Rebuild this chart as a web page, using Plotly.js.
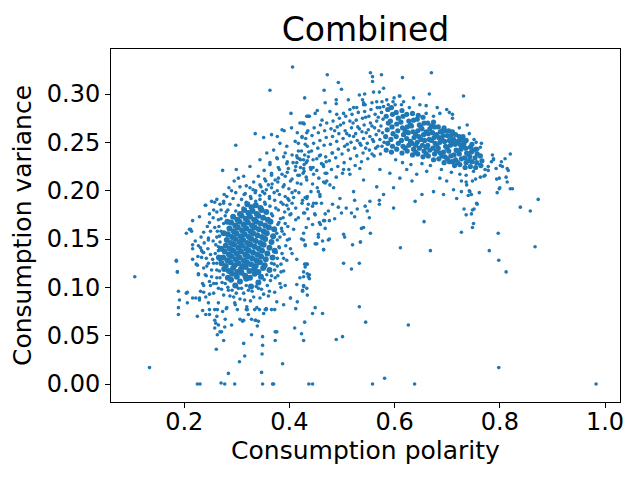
<!DOCTYPE html>
<html>
<head>
<meta charset="utf-8">
<script src="https://cdn.plot.ly/plotly-3.0.1.min.js"></script>
<style>
  html, body { margin: 0; padding: 0; background: #fff; }
  #chart { width: 640px; height: 480px; }
</style>
</head>
<body>
<div id="chart"></div>
<script>
// Combined: consumption polarity vs consumption variance, one point per household.
// The two solid blobs (left core, right arc) get slightly fatter markers so they close up like the original.

const leftCore = [
  [0.289,0.108],[0.297,0.102],[0.306,0.106],[0.318,0.109],[0.327,0.101],[0.341,0.105],
  [0.283,0.110],[0.291,0.114],[0.300,0.111],[0.309,0.115],[0.316,0.112],[0.325,0.110],[0.334,0.114],[0.346,0.111],
  [0.276,0.119],[0.285,0.117],[0.293,0.120],[0.301,0.116],[0.308,0.119],[0.317,0.121],[0.324,0.117],[0.333,0.119],[0.341,0.116],[0.350,0.120],[0.362,0.118],
  [0.271,0.125],[0.279,0.122],[0.288,0.126],[0.296,0.123],[0.303,0.125],[0.311,0.122],[0.319,0.126],[0.327,0.124],[0.336,0.122],[0.344,0.126],[0.353,0.123],
  [0.274,0.131],[0.282,0.128],[0.290,0.132],[0.298,0.129],[0.305,0.131],[0.313,0.128],[0.321,0.132],[0.329,0.130],[0.337,0.128],[0.346,0.132],[0.355,0.129],[0.368,0.131],
  [0.277,0.137],[0.285,0.134],[0.293,0.138],[0.300,0.135],[0.308,0.137],[0.316,0.134],[0.323,0.138],[0.331,0.136],[0.339,0.134],[0.348,0.138],[0.358,0.135],
  [0.279,0.143],[0.287,0.140],[0.295,0.144],[0.303,0.141],[0.310,0.143],[0.318,0.140],[0.326,0.144],[0.334,0.142],[0.342,0.140],[0.351,0.144],[0.362,0.141],
  [0.281,0.149],[0.289,0.146],[0.297,0.150],[0.305,0.147],[0.312,0.149],[0.320,0.146],[0.328,0.150],[0.336,0.148],[0.345,0.146],[0.354,0.150],[0.366,0.147],
  [0.283,0.155],[0.291,0.152],[0.299,0.156],[0.307,0.153],[0.315,0.155],[0.323,0.152],[0.331,0.156],[0.339,0.154],[0.348,0.152],[0.357,0.156],[0.369,0.153],
  [0.286,0.161],[0.294,0.158],[0.302,0.162],[0.310,0.159],[0.318,0.161],[0.326,0.158],[0.334,0.162],[0.342,0.160],[0.351,0.158],[0.361,0.162],
  [0.289,0.167],[0.297,0.164],[0.305,0.168],[0.313,0.165],[0.321,0.167],[0.329,0.164],[0.337,0.168],[0.345,0.166],[0.354,0.164],[0.364,0.168],
  [0.293,0.173],[0.301,0.170],[0.309,0.174],[0.317,0.171],[0.325,0.173],[0.333,0.170],[0.341,0.174],[0.350,0.172],[0.359,0.170],
  [0.306,0.176],[0.314,0.180],[0.322,0.177],[0.330,0.179],[0.338,0.176],[0.347,0.180],[0.356,0.178],
  [0.320,0.186],[0.328,0.183],[0.336,0.185],[0.345,0.182],
  [0.270,0.140],[0.275,0.156],[0.282,0.168],[0.266,0.131],[0.372,0.138],[0.371,0.160]
];

const leftUpper = [
  [0.303,0.185],[0.312,0.182],[0.354,0.186],[0.363,0.184],[0.374,0.182],[0.388,0.186],[0.298,0.179],[0.366,0.176],[0.379,0.180],
  [0.368,0.174],[0.383,0.171],[0.378,0.165],[0.373,0.159],[0.377,0.149],[0.371,0.137],[0.366,0.125],[0.357,0.113],[0.352,0.108],
  [0.278,0.104],[0.274,0.113],
  [0.309,0.191],[0.318,0.188],[0.327,0.192],[0.336,0.189],[0.344,0.191],[0.353,0.188],[0.362,0.192],[0.372,0.190],[0.384,0.188],[0.397,0.192],
  [0.316,0.197],[0.326,0.194],[0.335,0.198],[0.344,0.195],[0.353,0.197],[0.362,0.194],[0.371,0.198],[0.381,0.196],[0.392,0.194],[0.405,0.198],
  [0.325,0.203],[0.336,0.200],[0.346,0.204],[0.356,0.201],[0.366,0.203],[0.377,0.200],[0.388,0.204],[0.399,0.202],[0.411,0.200],
  [0.332,0.209],[0.344,0.206],[0.355,0.210],[0.367,0.207],[0.378,0.209],[0.390,0.206],[0.402,0.210],[0.415,0.208],
  [0.341,0.215],[0.353,0.212],[0.366,0.216],[0.379,0.213],[0.392,0.215],[0.405,0.212],[0.419,0.216],[0.432,0.214],
  [0.352,0.221],[0.366,0.218],[0.381,0.222],[0.396,0.219],[0.411,0.221],[0.426,0.218],[0.441,0.222],
  [0.363,0.227],[0.379,0.224],[0.395,0.228],[0.412,0.225],[0.428,0.227],[0.445,0.224],[0.461,0.228],
  [0.377,0.233],[0.396,0.230],[0.415,0.234],[0.434,0.231],[0.452,0.233],[0.470,0.230],
  [0.392,0.239],[0.414,0.236],[0.437,0.240],[0.459,0.237],[0.482,0.239],
  [0.314,0.196],[0.331,0.201],[0.349,0.199],[0.360,0.206],[0.373,0.211],[0.386,0.217],[0.398,0.223],[0.407,0.229],[0.421,0.232]
];

const leftHalo = [
  [0.273,0.221],[0.299,0.222],[0.303,0.213],[0.290,0.200],[0.240,0.185],[0.258,0.188],[0.256,0.180],[0.275,0.189],[0.275,0.187],
  [0.216,0.169],[0.229,0.173],[0.210,0.160],[0.204,0.156],[0.237,0.157],[0.248,0.167],[0.185,0.128],[0.187,0.116],
  [0.216,0.144],[0.216,0.140],[0.227,0.143],[0.231,0.141],[0.236,0.136],[0.246,0.151],[0.246,0.149],[0.250,0.134],[0.254,0.129],
  [0.260,0.144],[0.262,0.125],[0.265,0.138],[0.267,0.153],[0.263,0.158],[0.268,0.147],[0.266,0.163],[0.270,0.171],[0.280,0.178],
  [0.237,0.120],[0.227,0.114],[0.223,0.124],[0.240,0.113],[0.248,0.106],[0.256,0.104],[0.237,0.102],[0.262,0.110],[0.267,0.117],
  [0.262,0.118],[0.268,0.128],[0.259,0.135],[0.265,0.142],[0.255,0.148],[0.262,0.152],[0.270,0.158],[0.258,0.162],[0.275,0.166],
  [0.265,0.170],[0.278,0.174],[0.283,0.180],[0.270,0.180],[0.287,0.186],[0.293,0.192],[0.281,0.194],[0.298,0.198],[0.306,0.204],
  [0.245,0.140],[0.250,0.158],[0.242,0.130],[0.252,0.118],[0.246,0.125],[0.238,0.146],[0.232,0.152],[0.244,0.163],[0.255,0.172],
  [0.262,0.178],[0.248,0.176],[0.268,0.186],[0.276,0.196],[0.285,0.203],[0.295,0.210],[0.318,0.205],[0.226,0.132],[0.221,0.148],
  [0.252,0.111],[0.261,0.104],[0.268,0.110],[0.271,0.098],
  [0.283,0.100],[0.291,0.097],[0.299,0.094],[0.309,0.099],[0.318,0.102],[0.329,0.096],[0.337,0.101],[0.347,0.098],[0.358,0.102],
  [0.364,0.107],[0.272,0.105],[0.287,0.091],[0.306,0.088],[0.326,0.086],[0.344,0.089],[0.360,0.091],[0.296,0.084],[0.315,0.087],
  [0.366,0.112],[0.372,0.118],[0.371,0.124],[0.377,0.130],[0.375,0.136],[0.380,0.142],[0.382,0.152],[0.376,0.156],[0.385,0.161],
  [0.380,0.167],[0.388,0.172],[0.391,0.178],[0.395,0.185],[0.399,0.190],[0.405,0.187],[0.408,0.193],[0.412,0.182],[0.403,0.176],
  [0.397,0.163],[0.390,0.155],[0.393,0.143],[0.386,0.135],[0.384,0.124],[0.378,0.112],[0.400,0.150],[0.408,0.160],[0.412,0.170],
  [0.402,0.140],[0.389,0.117],[0.395,0.128],
  [0.427,0.177],[0.434,0.181],[0.446,0.187],[0.465,0.169],[0.468,0.176],[0.449,0.175],[0.458,0.194],[0.468,0.208],[0.471,0.218],
  [0.455,0.199],[0.434,0.194],[0.424,0.187],[0.417,0.172],[0.427,0.149],[0.430,0.144],[0.414,0.129],[0.405,0.135],[0.452,0.145],
  [0.465,0.139],[0.420,0.110],[0.427,0.101],[0.436,0.111],[0.382,0.104],[0.373,0.110],
  [0.386,0.158],[0.392,0.166],[0.381,0.141],[0.389,0.130],[0.377,0.122],[0.396,0.149],[0.401,0.175],[0.384,0.116],[0.398,0.181],
  [0.227,0.113],[0.235,0.104],[0.242,0.112],[0.250,0.102],[0.237,0.095],
  [0.256,0.094],[0.265,0.099],[0.275,0.092],[0.284,0.097],[0.294,0.090],[0.303,0.099],[0.313,0.094],[0.322,0.097],[0.332,0.090],
  [0.341,0.099],[0.351,0.093],[0.362,0.096],[0.372,0.095],[0.384,0.100],[0.392,0.102],[0.402,0.089],[0.414,0.103],[0.425,0.096],[0.433,0.099],
  [0.265,0.084],[0.281,0.079],[0.297,0.082],[0.319,0.080],[0.338,0.079],[0.356,0.078],[0.376,0.085],[0.389,0.082],
  [0.262,0.070],[0.278,0.067],[0.322,0.072],[0.335,0.066],[0.351,0.073],
  [0.216,0.129],[0.237,0.136],[0.243,0.122],[0.256,0.125],[0.225,0.123],
  [0.357,0.239],[0.370,0.242],[0.382,0.249],[0.395,0.246],[0.411,0.251],[0.424,0.255],[0.433,0.260],[0.389,0.235],[0.405,0.237],
  [0.417,0.241],[0.430,0.248],[0.344,0.232],[0.325,0.225],[0.313,0.215],[0.363,0.229],[0.376,0.234],[0.414,0.229],[0.427,0.232],[0.436,0.235],
  [0.351,0.255],[0.366,0.258],[0.377,0.256],[0.386,0.263],[0.390,0.262],[0.404,0.265],[0.415,0.260],[0.424,0.270],[0.428,0.269],[0.438,0.277],
  [0.262,0.191],[0.252,0.189],[0.241,0.185],[0.212,0.160],[0.214,0.158],[0.233,0.138],[0.233,0.131],[0.298,0.247],[0.335,0.259]
];

const midBand = [
  [0.418,0.198],[0.422,0.207],[0.416,0.216],[0.421,0.224],[0.419,0.233],[0.423,0.241],[0.417,0.249],[0.424,0.256],
  [0.430,0.193],[0.433,0.211],[0.428,0.220],[0.432,0.229],[0.429,0.237],[0.434,0.246],[0.431,0.254],[0.435,0.262],
  [0.441,0.199],[0.444,0.207],[0.440,0.224],[0.445,0.232],[0.442,0.241],[0.446,0.249],[0.443,0.257],[0.447,0.265],
  [0.453,0.203],[0.456,0.213],[0.452,0.221],[0.457,0.236],[0.454,0.244],[0.458,0.252],[0.455,0.260],[0.459,0.268],
  [0.465,0.209],[0.468,0.218],[0.464,0.227],[0.469,0.235],[0.466,0.247],[0.470,0.255],[0.467,0.262],[0.471,0.270],
  [0.477,0.206],[0.480,0.222],[0.476,0.231],[0.481,0.239],[0.478,0.248],[0.482,0.256],[0.479,0.264],[0.483,0.272],
  [0.489,0.214],[0.492,0.225],[0.488,0.234],[0.493,0.243],[0.490,0.251],[0.494,0.259],[0.491,0.266],[0.495,0.275],
  [0.501,0.218],[0.504,0.229],[0.500,0.238],[0.505,0.246],[0.502,0.254],[0.506,0.262],[0.503,0.270],[0.507,0.277],
  [0.513,0.222],[0.516,0.233],[0.512,0.242],[0.517,0.250],[0.514,0.257],[0.518,0.265],[0.515,0.272],[0.519,0.279],
  [0.525,0.226],[0.528,0.236],[0.524,0.244],[0.529,0.252],[0.526,0.259],[0.530,0.266],[0.527,0.273],[0.531,0.281],
  [0.537,0.230],[0.540,0.239],[0.536,0.247],[0.541,0.254],[0.538,0.261],[0.542,0.268],[0.539,0.275],[0.543,0.282],
  [0.549,0.233],[0.552,0.242],[0.548,0.249],[0.553,0.256],[0.550,0.263],[0.554,0.270],[0.551,0.277],[0.555,0.284],
  [0.561,0.236],[0.564,0.244],[0.560,0.251],[0.565,0.258],[0.562,0.265],[0.566,0.272],[0.563,0.279],[0.567,0.286],
  [0.573,0.238],[0.576,0.246],[0.572,0.253],[0.577,0.260],[0.574,0.267],[0.578,0.274],[0.575,0.281],[0.579,0.287],
  [0.486,0.262],[0.497,0.268],[0.509,0.259],[0.521,0.270],[0.533,0.264],[0.545,0.276],[0.557,0.267],[0.569,0.276],[0.510,0.248],
  [0.522,0.256],[0.534,0.249],[0.546,0.260],[0.558,0.253],[0.570,0.262],[0.545,0.244],[0.557,0.238],[0.568,0.246],[0.580,0.250],
  [0.433,0.277],[0.449,0.280],[0.462,0.273],[0.477,0.282],[0.490,0.279],[0.503,0.280],[0.515,0.284],[0.528,0.286],
  [0.544,0.289],[0.557,0.291],[0.576,0.292],[0.588,0.289],[0.601,0.289],[0.572,0.286],
  [0.427,0.223],[0.446,0.217],[0.458,0.196],[0.471,0.210],[0.484,0.203],[0.496,0.192],[0.515,0.217],[0.522,0.199],[0.541,0.211],
  [0.553,0.189],[0.566,0.204],[0.579,0.196],[0.591,0.218],[0.598,0.203],[0.610,0.213],[0.572,0.222],[0.534,0.223],[0.503,0.222],
  [0.465,0.225],[0.433,0.192],
  [0.425,0.190],[0.436,0.186],[0.444,0.184],[0.451,0.187],[0.461,0.187],[0.474,0.179],[0.482,0.186],[0.493,0.183],[0.499,0.177],
  [0.508,0.182],[0.518,0.177],[0.524,0.173],[0.529,0.181],[0.544,0.184],[0.548,0.179],[0.552,0.172],[0.571,0.186],[0.524,0.190],
  [0.571,0.190],[0.429,0.177],[0.436,0.171],[0.448,0.176],[0.432,0.162],[0.444,0.165],[0.457,0.167],[0.467,0.169],[0.476,0.169],
  [0.486,0.171],[0.459,0.165],[0.468,0.161],[0.427,0.156],[0.423,0.150],[0.430,0.143],[0.455,0.155],[0.455,0.152],[0.463,0.148],
  [0.476,0.150],[0.503,0.155],[0.505,0.152],[0.535,0.147],[0.554,0.156],[0.537,0.161],[0.541,0.162],[0.449,0.145],[0.465,0.139],
  [0.429,0.124],[0.434,0.124],[0.430,0.121]
];

const arcCore = [
  [0.584,0.242],[0.587,0.249],[0.583,0.256],[0.586,0.263],[0.588,0.270],[0.584,0.277],[0.587,0.284],
  [0.594,0.240],[0.596,0.246],[0.593,0.253],[0.597,0.259],[0.595,0.266],[0.592,0.272],[0.596,0.279],[0.594,0.286],
  [0.604,0.243],[0.607,0.249],[0.603,0.256],[0.606,0.262],[0.604,0.269],[0.607,0.275],[0.603,0.281],
  [0.614,0.239],[0.616,0.246],[0.613,0.252],[0.617,0.258],[0.615,0.265],[0.612,0.271],[0.616,0.277],[0.614,0.283],
  [0.624,0.241],[0.627,0.247],[0.623,0.254],[0.626,0.260],[0.624,0.266],[0.627,0.272],[0.623,0.279],
  [0.634,0.237],[0.636,0.243],[0.633,0.249],[0.637,0.255],[0.635,0.261],[0.632,0.267],[0.636,0.273],[0.634,0.280],
  [0.644,0.238],[0.647,0.244],[0.643,0.250],[0.646,0.256],[0.644,0.262],[0.647,0.268],[0.643,0.274],[0.645,0.278],
  [0.654,0.235],[0.656,0.241],[0.653,0.247],[0.657,0.252],[0.655,0.258],[0.652,0.264],[0.656,0.270],[0.654,0.276],
  [0.664,0.236],[0.667,0.242],[0.663,0.247],[0.666,0.253],[0.664,0.259],[0.667,0.264],[0.663,0.270],
  [0.674,0.232],[0.676,0.238],[0.673,0.244],[0.677,0.249],[0.675,0.255],[0.672,0.260],[0.676,0.266],[0.674,0.271],
  [0.684,0.233],[0.687,0.239],[0.683,0.244],[0.686,0.250],[0.684,0.255],[0.687,0.261],[0.683,0.266],
  [0.694,0.229],[0.696,0.235],[0.693,0.240],[0.697,0.246],[0.695,0.251],[0.692,0.257],[0.696,0.262],[0.694,0.265],
  [0.704,0.230],[0.707,0.236],[0.703,0.241],[0.706,0.247],[0.704,0.252],[0.707,0.257],[0.703,0.262],
  [0.714,0.226],[0.716,0.232],[0.713,0.237],[0.717,0.242],[0.715,0.248],[0.712,0.253],[0.716,0.258],
  [0.724,0.227],[0.727,0.233],[0.723,0.238],[0.726,0.243],[0.724,0.248],[0.727,0.253],[0.723,0.256],
  [0.734,0.224],[0.736,0.229],[0.733,0.234],[0.737,0.239],[0.735,0.244],[0.732,0.249],[0.736,0.252],
  [0.744,0.225],[0.747,0.230],[0.743,0.235],[0.746,0.240],[0.744,0.245],[0.747,0.248],
  [0.754,0.224],[0.756,0.229],[0.753,0.234],[0.757,0.238],[0.755,0.243],
  [0.764,0.226],[0.766,0.231],[0.763,0.236],
  [0.620,0.244],[0.630,0.251],[0.640,0.247],[0.650,0.253],[0.660,0.245],[0.670,0.252],[0.680,0.247],[0.690,0.253],[0.700,0.244],
  [0.710,0.250],[0.720,0.241],[0.730,0.247],[0.740,0.238],[0.750,0.242],[0.620,0.262],[0.630,0.268],[0.640,0.258],[0.650,0.266],
  [0.660,0.261],[0.670,0.267],[0.680,0.258],[0.690,0.262],[0.700,0.257],[0.710,0.261],[0.720,0.251],[0.730,0.256],[0.740,0.231],
  [0.700,0.233],[0.710,0.230],[0.720,0.229],[0.690,0.236],[0.680,0.241],[0.660,0.238],[0.640,0.240]
];

const arcFringe = [
  [0.522,0.286],[0.541,0.289],[0.566,0.292],[0.585,0.294],[0.610,0.298],[0.636,0.296],[0.648,0.289],[0.686,0.280],[0.699,0.284],
  [0.623,0.222],[0.633,0.210],[0.642,0.217],[0.652,0.196],[0.661,0.220],[0.674,0.199],[0.686,0.213],[0.699,0.210],[0.712,0.201],
  [0.724,0.217],[0.737,0.206],[0.750,0.220],[0.762,0.227],[0.772,0.222],[0.784,0.230],[0.794,0.212],[0.800,0.203],[0.743,0.199],
  [0.718,0.192],[0.693,0.196],[0.639,0.189],[0.756,0.187],[0.602,0.232],[0.615,0.229],[0.631,0.227],[0.652,0.228],[0.668,0.226],
  [0.689,0.222],[0.708,0.219],[0.660,0.280],[0.674,0.277],[0.628,0.286],[0.613,0.289],[0.597,0.292]
];

const outliers = [
  [0.106,0.111],[0.134,0.017],[0.225,0.000],[0.230,0.000],[0.270,0.001],[0.277,0.000],[0.296,0.000],[0.349,0.000],[0.368,0.000],
  [0.370,0.000],[0.437,0.000],[0.444,0.000],[0.558,0.000],[0.638,0.000],[0.983,0.000],[0.581,0.006],[0.798,0.017],
  [0.284,0.011],[0.347,0.012],[0.305,0.023],[0.315,0.029],[0.261,0.036],[0.387,0.021],[0.348,0.031],[0.313,0.042],[0.349,0.040],
  [0.349,0.049],[0.275,0.045],[0.373,0.045],[0.373,0.054],[0.376,0.054],[0.427,0.045],[0.423,0.052],[0.410,0.058],[0.429,0.064],
  [0.328,0.051],[0.268,0.054],[0.271,0.054],[0.263,0.051],[0.258,0.058],[0.265,0.061],[0.277,0.059],[0.290,0.061],[0.339,0.060],
  [0.336,0.066],[0.341,0.065],[0.328,0.067],[0.306,0.067],[0.311,0.065],[0.313,0.066],[0.225,0.070],[0.189,0.072],[0.189,0.079],
  [0.191,0.087],[0.189,0.096],[0.187,0.116],[0.185,0.127],[0.206,0.084],[0.204,0.094],[0.206,0.095],[0.216,0.089],[0.222,0.089],
  [0.229,0.089],[0.229,0.087],[0.235,0.076],[0.241,0.072],[0.248,0.072],[0.248,0.077],[0.258,0.077],[0.263,0.077],[0.231,0.096],
  [0.241,0.090],[0.248,0.093],[0.246,0.084],[0.258,0.066],[0.260,0.063],[0.273,0.075],[0.280,0.078],
  [0.301,0.077],[0.318,0.077],[0.320,0.077],[0.334,0.077],[0.343,0.077],[0.354,0.077],[0.356,0.077],[0.366,0.077],[0.372,0.077],
  [0.402,0.089],[0.412,0.078],[0.425,0.097],[0.427,0.102],[0.415,0.085],[0.427,0.116],[0.434,0.114],[0.432,0.124],
  [0.598,0.182],[0.656,0.168],[0.611,0.141],[0.668,0.138],[0.520,0.144],[0.503,0.125],[0.533,0.125],[0.518,0.119],[0.533,0.080],
  [0.545,0.064],[0.626,0.061],[0.501,0.049],[0.489,0.046],[0.449,0.079],[0.444,0.073],[0.463,0.073],
  [0.798,0.128],[0.797,0.156],[0.780,0.138],[0.727,0.157],[0.748,0.162],[0.750,0.166],[0.732,0.181],[0.736,0.175],[0.746,0.176],
  [0.748,0.180],[0.751,0.181],[0.757,0.186],[0.867,0.142],[0.812,0.116],[0.427,0.111],[0.438,0.113],[0.438,0.109],
  [0.434,0.092],[0.535,0.147],[0.474,0.149],
  [0.670,0.322],[0.554,0.322],[0.558,0.318],[0.558,0.313],[0.575,0.320],[0.472,0.320],[0.615,0.317],[0.493,0.312],[0.466,0.304],
  [0.499,0.305],[0.429,0.296],[0.579,0.306],[0.571,0.302],[0.560,0.302],[0.666,0.300],[0.731,0.298],[0.468,0.291],[0.453,0.283],
  [0.436,0.277],[0.489,0.294],[0.489,0.290],[0.512,0.294],[0.533,0.299],[0.543,0.300],[0.539,0.294],[0.541,0.291],
  [0.660,0.288],[0.681,0.286],[0.704,0.281],[0.710,0.279],[0.710,0.275],[0.723,0.265],[0.738,0.268],[0.599,0.296],[0.609,0.298],
  [0.617,0.292],[0.427,0.270],[0.420,0.270],
  [0.406,0.328],[0.363,0.304],[0.403,0.280],[0.435,0.277],
  [0.742,0.259],[0.751,0.253],[0.755,0.250],[0.765,0.249],[0.763,0.245],[0.758,0.243],[0.786,0.237],[0.788,0.233],
  [0.788,0.232],[0.820,0.238],[0.810,0.233],[0.803,0.230],[0.793,0.223],[0.801,0.226],[0.805,0.225],[0.814,0.223],[0.816,0.221],
  [0.778,0.225],[0.778,0.221],[0.812,0.214],[0.799,0.213],[0.814,0.209],[0.820,0.202],[0.824,0.202],[0.799,0.202],[0.795,0.198],
  [0.873,0.191],[0.839,0.183],[0.858,0.179],[0.772,0.216],[0.770,0.215],[0.761,0.198],[0.740,0.195],[0.746,0.196],
  [0.742,0.200],[0.727,0.199],[0.727,0.210],[0.763,0.214],[0.754,0.212],[0.748,0.210],[0.736,0.209],[0.736,0.216]
];

const xTicks = [0.2, 0.4, 0.6, 0.8, 1.0];
const xTickText = ['0.2', '0.4', '0.6', '0.8', '1.0'];
const yTicks = [0, 0.05, 0.10, 0.15, 0.20, 0.25, 0.30];
const yTickText = ['0.00', '0.05', '0.10', '0.15', '0.20', '0.25', '0.30'];

const FONT = '"DejaVu Sans", sans-serif';
const BLUE = '#1f77b4';

function points(pts, size) {
  return {
    x: pts.map((p) => p[0]),
    y: pts.map((p) => p[1]),
    type: 'scatter',
    mode: 'markers',
    marker: { color: BLUE, size, line: { width: 0 } },
    hoverinfo: 'x+y',
  };
}

const traces = [
  points([...leftHalo, ...leftUpper, ...midBand, ...arcFringe, ...outliers], 3.6),
  points(leftCore, 6),
  points(arcCore, 5.2),
];

const axisBase = {
  showline: true, mirror: true, linecolor: '#000', linewidth: 1,
  ticks: 'outside', ticklen: 5, tickwidth: 1, tickcolor: '#000',
  showgrid: false, zeroline: false, tickmode: 'array',
  tickfont: { family: FONT, size: 24, color: '#000' },
};

const layout = {
  width: 640, height: 480,
  paper_bgcolor: '#fff', plot_bgcolor: '#fff',
  margin: { l: 111, r: 20, t: 49, b: 78 },
  showlegend: false,
  font: { family: FONT, color: '#000' },
  title: { text: 'Combined', font: { family: FONT, size: 33, color: '#000' }, x: 0.5, xref: 'paper', y: 0.938, yref: 'container', yanchor: 'middle' },
  // x labels sit a little tighter to the axis than plotly's default, as in the original
  xaxis: { ...axisBase, range: [0.0608, 1.0285], tickvals: xTicks, ticktext: xTickText, ticklabelstandoff: -7,
    title: { text: 'Consumption polarity', font: { family: FONT, size: 25, color: '#000' }, standoff: 2 } },
  yaxis: { ...axisBase, range: [-0.0186, 0.3466], tickvals: yTicks, ticktext: yTickText,
    title: { text: 'Consumption variance', font: { family: FONT, size: 25, color: '#000' }, standoff: 8 } },
};

Plotly.newPlot('chart', [...traces], layout, { displayModeBar: false, staticPlot: true });
</script>
</body>
</html>
